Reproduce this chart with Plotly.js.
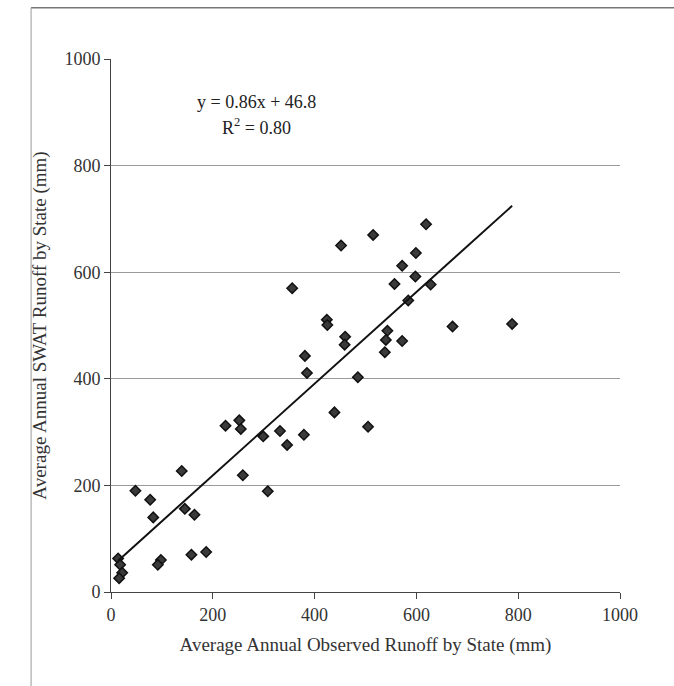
<!DOCTYPE html>
<html>
<head>
<meta charset="utf-8">
<script src="https://cdn.plot.ly/plotly-3.0.1.min.js"></script>
<style>html,body{margin:0;padding:0;background:#fff;}#chart{width:674px;height:686px;}</style>
</head>
<body>
<div id="chart"></div>
<script>
// Observed (x) vs SWAT (y) average annual runoff by state, mm
const observed = [14, 18, 22, 16, 48, 77, 83, 139, 98, 92, 145, 164, 158, 187, 225, 252, 255, 259, 308, 299, 332, 346, 379, 439,
  619, 515, 452, 599, 572, 598, 557, 628, 584, 424, 425, 543, 671, 788, 540, 572, 460, 459, 538, 381, 385, 485, 505, 356];
const swat = [63, 51, 36, 26, 190, 173, 140, 227, 60, 51, 156, 145, 70, 75, 312, 322, 306, 219, 189, 292, 302, 276, 295, 337,
  690, 670, 650, 636, 612, 592, 578, 577, 547, 511, 501, 490, 498, 503, 473, 471, 479, 464, 450, 443, 411, 403, 310, 570];
const slope = 0.86;
const intercept = 46.8;
const r2 = "0.80";
const xTicks = [0, 200, 400, 600, 800, 1000];
const yTicks = [0, 200, 400, 600, 800, 1000];

const xMin = Math.min(...observed), xMax = Math.max(...observed);
const fitX = [xMin, xMax];
const fitY = fitX.map(v => slope * v + intercept);

const font = "'Liberation Serif', 'Times New Roman', serif";

const traces = [
  {
    x: observed, y: swat, type: 'scatter', mode: 'markers',
    marker: {symbol: 'diamond', size: 8, color: '#3a3a3a', line: {color: '#111', width: 1.5}},
    showlegend: false, hoverinfo: 'x+y'
  },
  {
    x: fitX, y: fitY, type: 'scatter', mode: 'lines',
    line: {color: '#111', width: 2}, showlegend: false, hoverinfo: 'skip'
  }
];

const layout = {
  width: 674, height: 686,
  paper_bgcolor: '#fff', plot_bgcolor: '#fff',
  margin: {l: 111, r: 54, t: 59, b: 94},
  font: {family: font, size: 18, color: '#222'},
  xaxis: {
    range: [0, 1000], tickvals: xTicks, ticktext: xTicks.map(String),
    showgrid: false, zeroline: false, showline: true, linecolor: '#444', linewidth: 1,
    ticks: 'outside', ticklen: 6, tickcolor: '#444',
    tickfont: {family: font, size: 18, color: '#333'},
    title: {text: 'Average Annual Observed Runoff by State (mm)', font: {family: font, size: 19, color: '#333'}, standoff: 14},
    fixedrange: true
  },
  yaxis: {
    range: [0, 1000], tickvals: yTicks, ticktext: yTicks.map(String),
    showgrid: true, gridcolor: '#9a9a9a', gridwidth: 1,
    zeroline: false, showline: true, linecolor: '#444', linewidth: 1,
    ticks: 'outside', ticklen: 6, tickcolor: '#444',
    tickfont: {family: font, size: 18, color: '#333'},
    title: {text: 'Average Annual SWAT Runoff by State (mm)', font: {family: font, size: 19, color: '#333'}, standoff: 12},
    fixedrange: true
  },
  annotations: [
    {xref: 'x', yref: 'y', x: 285, y: 920, text: 'y = 0.86x + 46.8', showarrow: false,
     font: {family: font, size: 18, color: '#222'}},
    {xref: 'x', yref: 'y', x: 285, y: 873, text: 'R<sup>2</sup> = ' + r2, showarrow: false,
     font: {family: font, size: 18, color: '#222'}}
  ],
  shapes: [
    {type: 'line', xref: 'paper', yref: 'paper', x0: -0.157, x1: 1.11, y0: 1.096, y1: 1.096, line: {color: '#777', width: 1.5}},
    {type: 'line', xref: 'paper', yref: 'paper', x0: -0.157, x1: -0.157, y0: 1.096, y1: -0.18, line: {color: '#999', width: 1}}
  ]
};

Plotly.newPlot('chart', traces, layout, {displayModeBar: false, staticPlot: true});
</script>
</body>
</html>
